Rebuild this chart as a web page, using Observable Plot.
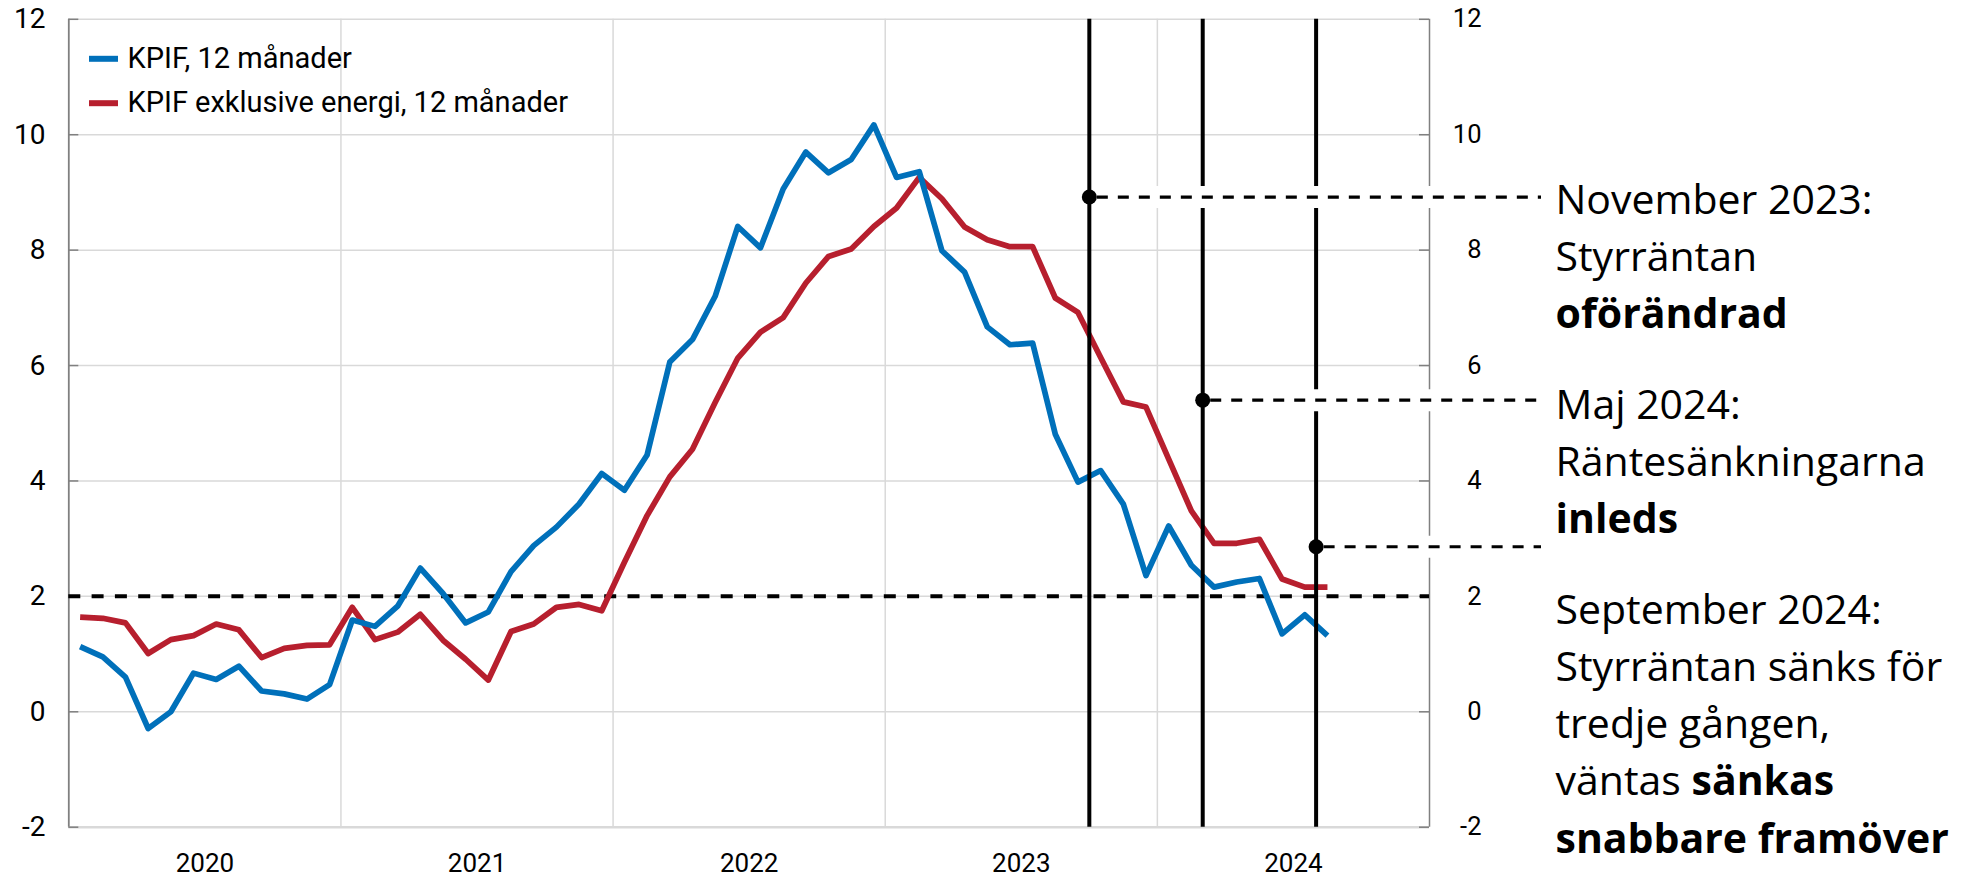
<!DOCTYPE html>
<html>
<head>
<meta charset="utf-8">
<script src="https://cdn.jsdelivr.net/npm/d3@7"></script>
<script src="https://cdn.jsdelivr.net/npm/@observablehq/plot@0.6"></script>
<style>
  html, body { margin: 0; padding: 0; background: #fff; }
  #chart svg { display: block; }
</style>
</head>
<body>
<div id="chart"></div>
<script>
// ---------------- data ----------------
const startMonth = "2020-01";
const seriesNames = ["KPIF, 12 månader", "KPIF exklusive energi, 12 månader"];
const seriesColors = ["#0070BA", "#B71F2E"];

// monthly values from Jan 2020 to Aug 2024
const kpif = [
  1.13, 0.95, 0.60, -0.29, 0.00, 0.67, 0.56, 0.79, 0.36, 0.31, 0.22, 0.47,
  1.59, 1.48, 1.83, 2.49, 2.05, 1.54, 1.73, 2.43, 2.88, 3.20, 3.60, 4.13,
  3.84, 4.45, 6.06, 6.45, 7.20, 8.41, 8.04, 9.06, 9.70, 9.34, 9.57, 10.17,
  9.26, 9.36, 7.99, 7.62, 6.67, 6.36, 6.39, 4.81, 3.98, 4.18, 3.60, 2.36,
  3.22, 2.54, 2.16, 2.25, 2.31, 1.35, 1.68, 1.32
];
const kpifExEnergy = [
  1.64, 1.62, 1.54, 1.01, 1.25, 1.32, 1.52, 1.42, 0.94, 1.10, 1.15, 1.16,
  1.81, 1.25, 1.38, 1.69, 1.24, 0.91, 0.55, 1.39, 1.52, 1.81, 1.86, 1.75,
  2.59, 3.40, 4.07, 4.55, 5.36, 6.13, 6.58, 6.83, 7.43, 7.89, 8.02, 8.41,
  8.73, 9.26, 8.89, 8.40, 8.18, 8.06, 8.06, 7.17, 6.92, 6.14, 5.37, 5.28,
  4.38, 3.48, 2.92, 2.92, 2.99, 2.30, 2.16, 2.16
];

const yearLabels = ["2020", "2021", "2022", "2023", "2024"];
const yTicks = [-2, 0, 2, 4, 6, 8, 10, 12];
const inflationTarget = 2;

const eventNames = ["November 2023", "Maj 2024", "September 2024"];
const eventLineMonths = ["2023-10", "2024-03", "2024-08"];
const eventDotValues = [8.92, 5.40, 2.86];

const annotationLines = [
  ["November 2023:", "Styrräntan", "**oförändrad**"],
  ["Maj 2024:", "Räntesänkningarna", "**inleds**"],
  ["September 2024:", "Styrräntan sänks för", "tredje gången,", "väntas **sänkas**", "**snabbare framöver**"]
];

// ---------------- layout ----------------
const W = 1967, H = 879;
const mL = 68.3, mR = 538, mT = 18.8, mB = 52.3;
const xDomain = [0, 60], yDomain = [-2, 12];
const plotW = W - mL - mR, plotH = H - mT - mB;
const pxPerMonth = plotW / (xDomain[1] - xDomain[0]);
const pxPerUnit = plotH / (yDomain[1] - yDomain[0]);
const xAtPx = px => xDomain[0] + (px - mL) / pxPerMonth;
const yAtPx = py => yDomain[1] - (py - mT) / pxPerUnit;

const annotationFirstLinePx = [200, 405, 610];
const annotationLineStepPx = 57.25;
const annotationLeftPx = 1555;
const leaderEndPx = 1541;
const legendSwatchPx = [89, 118], legendTextPx = 127, legendRowPx = [58.3, 102.7];

const monthIndex = s => {
  const [y, m] = s.split("-").map(Number);
  const [y0, m0] = startMonth.split("-").map(Number);
  return (y - y0) * 12 + (m - m0);
};

// ---------------- derived tables ----------------
const rows = [];
[kpif, kpifExEnergy].forEach((vals, s) =>
  vals.forEach((v, i) => rows.push({series: seriesNames[s], x: i + 0.5, value: v}))
);
const events = eventNames.map((name, i) => ({
  name, lineX: monthIndex(eventLineMonths[i]), dot: eventDotValues[i]
}));
const leaderEnd = xAtPx(leaderEndPx);

const annotationRows = [];
annotationLines.forEach((lines, g) => lines.forEach((line, j) => {
  const fullBold = /^\*\*[^*]+\*\*$/.test(line);
  annotationRows.push({
    markup: line,
    text: line.replace(/\*\*/g, ""),
    bold: fullBold,
    x: xAtPx(annotationLeftPx),
    y: yAtPx(annotationFirstLinePx[g] + j * annotationLineStepPx)
  });
}));

const legendRows = seriesNames.map((name, i) => ({
  series: name,
  x1: xAtPx(legendSwatchPx[0]), x2: xAtPx(legendSwatchPx[1]),
  tx: xAtPx(legendTextPx), y: yAtPx(legendRowPx[i])
}));

const gridGray = "#d9d9d9", axisGray = "#808080";
const tickFont = "Roboto, sans-serif";
const noteFont = "'Open Sans', sans-serif";

const chart = Plot.plot({
  width: W, height: H,
  marginLeft: mL, marginRight: mR, marginTop: mT, marginBottom: mB,
  x: {domain: xDomain, label: null},
  y: {domain: yDomain, label: null},
  color: {domain: seriesNames, range: seriesColors},
  style: {fontFamily: tickFont, fontSize: "26px", color: "#000", background: "#fff", overflow: "visible"},
  marks: [
    // gridlines
    Plot.ruleY(yTicks.filter(v => v > yDomain[0]), {stroke: gridGray, strokeWidth: 1.5}),
    Plot.ruleX(yearLabels.slice(1).map((_, i) => (i + 1) * 12), {stroke: gridGray, strokeWidth: 1.5}),
    Plot.ruleY([yDomain[0]], {stroke: gridGray, strokeWidth: 2.5}),
    // axis lines and inward ticks
    Plot.ruleX([xDomain[0]], {stroke: axisGray, strokeWidth: 1.8}),
    Plot.ruleX([xDomain[1]], {stroke: axisGray, strokeWidth: 1.5}),
    Plot.ruleY(yTicks, {stroke: axisGray, strokeWidth: 1.5, insetRight: plotW - 10}),
    Plot.ruleY(yTicks, {stroke: axisGray, strokeWidth: 1.5, insetLeft: plotW - 10}),
    // inflation target
    Plot.ruleY([inflationTarget], {stroke: "#000", strokeWidth: 4, strokeDasharray: "12,11.3"}),
    // series (red below blue)
    Plot.line(rows.filter(d => d.series === seriesNames[1]), {x: "x", y: "value", stroke: "series", strokeWidth: 5.7, strokeLinejoin: "round", strokeLinecap: "butt"}),
    Plot.line(rows.filter(d => d.series === seriesNames[0]), {x: "x", y: "value", stroke: "series", strokeWidth: 5.7, strokeLinejoin: "round", strokeLinecap: "butt"}),
    // event lines
    Plot.ruleX(events, {x: "lineX", stroke: "#000", strokeWidth: 4}),
    Plot.ruleY(events, {y: "dot", x1: "lineX", x2: () => leaderEnd, stroke: "#fff", strokeWidth: 22, insetLeft: 9}),
    Plot.ruleY(events, {y: "dot", x1: "lineX", x2: () => leaderEnd, stroke: "#000", strokeWidth: 3.2, strokeDasharray: "11,10", insetLeft: 8}),
    Plot.dot(events, {x: "lineX", y: "dot", r: 7.5, fill: "#000", stroke: null}),
    // legend
    Plot.ruleY(legendRows, {y: "y", x1: "x1", x2: "x2", stroke: "series", strokeWidth: 6}),
    Plot.text(legendRows, {x: "tx", y: "y", text: "series", textAnchor: "start", fontSize: 29, fontFamily: tickFont, fill: "#000"}),
    // axes
    Plot.axisY({anchor: "left", ticks: yTicks, tickSize: 0, tickPadding: 23.3, tickFormat: d => String(d), fontSize: 28, fontFamily: tickFont, label: null}),
    Plot.axisY({anchor: "right", ticks: yTicks, tickSize: 0, tickPadding: 52, textAnchor: "end", tickFormat: d => String(d), fontSize: 25.5, fontFamily: tickFont, label: null}),
    Plot.axisX({ticks: yearLabels.map((_, i) => i * 12 + 6), tickSize: 0, tickPadding: 26, tickFormat: d => yearLabels[Math.floor(d / 12)], fontSize: 26, fontFamily: tickFont, label: null}),
    // annotations
    Plot.text(annotationRows.filter(d => !d.bold), {x: "x", y: "y", text: "text", textAnchor: "start", lineAnchor: "middle", fontSize: 41, fontFamily: noteFont, fill: "#000"}),
    Plot.text(annotationRows.filter(d => d.bold), {x: "x", y: "y", text: "text", textAnchor: "start", lineAnchor: "middle", fontSize: 41, fontWeight: 700, fontFamily: noteFont, fill: "#000"})
  ]
});

// mixed bold runs inside annotation lines
const mixedRows = annotationRows.filter(r => !r.bold && r.markup.includes("**"));
chart.querySelectorAll("text").forEach(node => {
  const row = mixedRows.find(r => r.text === node.textContent);
  if (!row) return;
  while (node.firstChild) node.removeChild(node.firstChild);
  row.markup.split(/(\*\*[^*]+\*\*)/).filter(Boolean).forEach(part => {
    const b = part.startsWith("**");
    const ts = document.createElementNS("http://www.w3.org/2000/svg", "tspan");
    if (b) ts.setAttribute("font-weight", "700");
    ts.textContent = b ? part.slice(2, -2) : part;
    node.appendChild(ts);
  });
});

document.getElementById("chart").append(chart);
</script>
</body>
</html>
